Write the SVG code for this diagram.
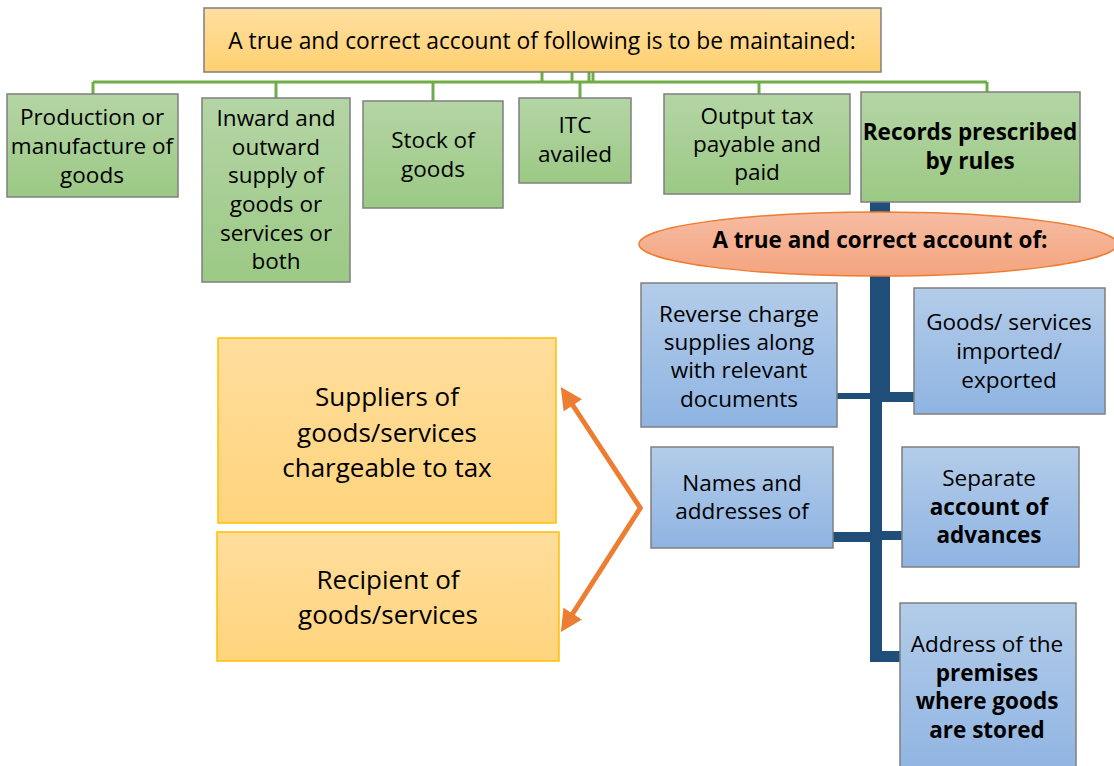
<svg xmlns="http://www.w3.org/2000/svg" width="1114" height="766" viewBox="0 0 1114 766">
<defs>
<linearGradient id="gGreen" x1="0" y1="0" x2="0" y2="1"><stop offset="0" stop-color="#B4D5A5"/><stop offset="1" stop-color="#9CC985"/></linearGradient>
<linearGradient id="gBlue" x1="0" y1="0" x2="0" y2="1"><stop offset="0" stop-color="#B3CCE9"/><stop offset="1" stop-color="#8FB4E2"/></linearGradient>
<linearGradient id="gGold" x1="0" y1="0" x2="0" y2="1"><stop offset="0" stop-color="#FFDFA0"/><stop offset="1" stop-color="#FFD070"/></linearGradient>
<linearGradient id="gOr" x1="0" y1="0" x2="0" y2="1"><stop offset="0" stop-color="#FFDD9C"/><stop offset="1" stop-color="#FFD47C"/></linearGradient>
<linearGradient id="gEll" x1="0" y1="0" x2="0" y2="1"><stop offset="0" stop-color="#F6BCA3"/><stop offset="1" stop-color="#F4A47E"/></linearGradient>
<marker id="ah" viewBox="0 0 10 10" refX="4" refY="5" markerWidth="4.4" markerHeight="4.4" orient="auto" markerUnits="strokeWidth"><path d="M0,0 L10,5 L0,10 z" fill="#ED7D31"/></marker>
</defs>
<style>
text{font-family:"Open Sans","Noto Sans","DejaVu Sans",sans-serif;fill:#000;text-anchor:middle}
.t{font-size:22.5px}
.b{font-weight:bold}
.g{fill:url(#gGreen);stroke:#7F7F7F;stroke-width:1.5}
.bl{fill:url(#gBlue);stroke:#7F7F7F;stroke-width:1.5}
.or{fill:url(#gOr);stroke:#FFC000;stroke-width:1.5}
.gl{stroke:#70AD47;stroke-width:3;fill:none}
.db{fill:#1F4E79}
.arr{stroke:#ED7D31;stroke-width:5;fill:none;marker-end:url(#ah)}
.o{font-size:26px}
</style>
<g id="connectors">
<path class="gl" d="M93,82 H987 M542,72 V82 M572,72 V82 M589,72 V82 M593,72 V82 M93,82 V94 M276,82 V98 M433,82 V101 M580,82 V98 M759,82 V94 M987,82 V92"/>
<rect class="db" x="870" y="202" width="20" height="200"/>
<rect class="db" x="870" y="400" width="12" height="262"/>
<rect class="db" x="870" y="651" width="31" height="11"/>
<rect class="db" x="888" y="392" width="26" height="10"/>
<rect class="db" x="837" y="393" width="34" height="6"/>
<rect class="db" x="833" y="532" width="38" height="10"/>
<rect class="db" x="880" y="531" width="22" height="9"/>
<path class="arr" d="M641,509 L568,398"/>
<path class="arr" d="M641,507 L568,621"/>
</g>
<g id="top">
<rect x="204" y="8" width="677" height="64" fill="url(#gGold)" stroke="#7F7F7F" stroke-width="1.5"/>
<text x="542" y="49" style="font-size:22.8px">A true and correct account of following is to be maintained:</text>
</g>
<g id="n1"><rect class="g" x="7" y="94" width="171" height="103"/>
<text class="t" x="92"><tspan x="92" y="125">Production or</tspan><tspan x="92" y="154">manufacture of</tspan><tspan x="92" y="183">goods</tspan></text></g>
<g id="n2"><rect class="g" x="202" y="98" width="148" height="184"/>
<text class="t"><tspan x="276" y="126">Inward and</tspan><tspan x="276" y="155">outward</tspan><tspan x="276" y="183">supply of</tspan><tspan x="276" y="212">goods or</tspan><tspan x="276" y="241">services or</tspan><tspan x="276" y="269">both</tspan></text></g>
<g id="n3"><rect class="g" x="363" y="101" width="140" height="107"/>
<text class="t"><tspan x="433" y="148">Stock of</tspan><tspan x="433" y="177">goods</tspan></text></g>
<g id="n4"><rect class="g" x="519" y="98" width="112" height="85"/>
<text class="t"><tspan x="575" y="133">ITC</tspan><tspan x="575" y="162">availed</tspan></text></g>
<g id="n5"><rect class="g" x="664" y="94" width="186" height="100"/>
<text class="t"><tspan x="757" y="124">Output tax</tspan><tspan x="757" y="152">payable and</tspan><tspan x="757" y="180">paid</tspan></text></g>
<g id="n6"><rect class="g" x="861" y="92" width="219" height="110"/>
<text class="t b"><tspan x="970" y="140">Records prescribed</tspan><tspan x="970" y="169">by rules</tspan></text></g>
<g id="ellipse"><ellipse cx="878" cy="244" rx="239" ry="32" fill="url(#gEll)" stroke="#ED7D31" stroke-width="1.5"/>
<text class="t b" x="880" y="248">A true and correct account of:</text></g>
<g id="reverse"><rect class="bl" x="641" y="283" width="196" height="144"/>
<text class="t"><tspan x="739" y="322">Reverse charge</tspan><tspan x="739" y="350">supplies along</tspan><tspan x="739" y="378">with relevant</tspan><tspan x="739" y="407">documents</tspan></text></g>
<g id="goods"><rect class="bl" x="914" y="288" width="191" height="126"/>
<text class="t"><tspan x="1009" y="330">Goods/ services</tspan><tspan x="1009" y="359">imported/</tspan><tspan x="1009" y="388">exported</tspan></text></g>
<g id="names"><rect class="bl" x="651" y="447" width="182" height="101"/>
<text class="t"><tspan x="742" y="491">Names and</tspan><tspan x="742" y="519">addresses of</tspan></text></g>
<g id="separate"><rect class="bl" x="902" y="447" width="177" height="120"/>
<text class="t"><tspan x="989" y="486">Separate</tspan><tspan x="989" y="515" class="b">account of</tspan><tspan x="989" y="543" class="b">advances</tspan></text></g>
<g id="address"><rect class="bl" x="900" y="603" width="176" height="175"/>
<text class="t"><tspan x="987" y="652">Address of the</tspan><tspan x="987" y="681" class="b">premises</tspan><tspan x="987" y="709" class="b">where goods</tspan><tspan x="987" y="738" class="b">are stored</tspan></text></g>
<g id="suppliers"><rect class="or" x="218" y="338" width="338" height="185"/>
<text class="o"><tspan x="387" y="406">Suppliers of</tspan><tspan x="387" y="442">goods/services</tspan><tspan x="387" y="477">chargeable to tax</tspan></text></g>
<g id="recipient"><rect class="or" x="217" y="532" width="342" height="129"/>
<text class="o"><tspan x="388" y="589">Recipient of</tspan><tspan x="388" y="624">goods/services</tspan></text></g>
</svg>
